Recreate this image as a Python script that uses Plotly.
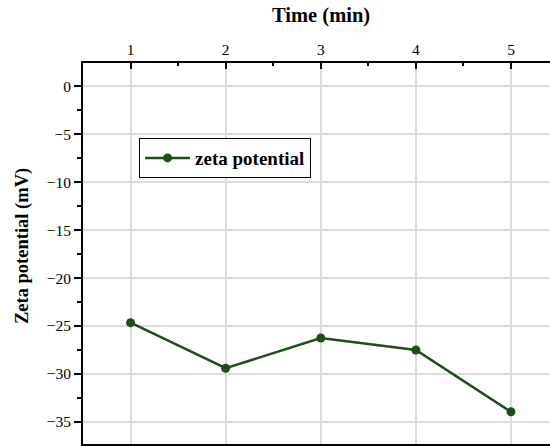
import plotly.graph_objects as go

time_min = [1, 2, 3, 4, 5]
zeta_mv = [-24.65, -29.4, -26.25, -27.5, -33.95]
series_name = "zeta potential"
x_title = "Time (min)"
y_title = "Zeta potential (mV)"

green = "#1d4f17"
serif = "Liberation Serif"

fig = go.Figure()
fig.add_trace(go.Scatter(
    x=time_min, y=zeta_mv, name=series_name, mode="lines+markers",
    line=dict(color=green, width=2.5),
    marker=dict(color=green, size=9),
))

fig.update_layout(
    width=550, height=446,
    margin=dict(l=83, r=0, t=63, b=2),
    paper_bgcolor="white", plot_bgcolor="white",
    font=dict(family=serif, size=15, color="black"),
    showlegend=True,
    legend=dict(
        x=0.12, y=0.803, xanchor="left", yanchor="top",
        bordercolor="black", borderwidth=1, bgcolor="white",
        font=dict(family=serif, size=19, weight="bold"),
        itemwidth=45,
    ),
    xaxis=dict(
        side="top", range=[0.5, 5.41], dtick=1, tick0=1,
        showline=True, linecolor="black", linewidth=2, mirror=True,
        ticks="inside", ticklen=6, tickwidth=2, tickcolor="black",
        minor=dict(dtick=0.5, tick0=0.5, ticks="inside", ticklen=3, tickwidth=2,
                   tickcolor="black", showgrid=False),
        showgrid=True, gridcolor="#dcdcdc", gridwidth=1.5,
        zeroline=False,
        tickfont=dict(family=serif, size=15.5),
    ),
    yaxis=dict(
        range=[-37.3, 2.43], dtick=5, tick0=0,
        showline=True, linecolor="black", linewidth=2,
        ticks="outside", ticklen=7, tickwidth=1.5, tickcolor="black",
        minor=dict(dtick=2.5, tick0=0, ticks="outside", ticklen=4, tickwidth=1.5,
                   tickcolor="black", showgrid=False),
        showgrid=True, gridcolor="#dcdcdc", gridwidth=1.5,
        zeroline=False,
        tickfont=dict(family=serif, size=15.5),
    ),
    annotations=[
        dict(text=x_title, xref="paper", yref="paper", x=(320.5 - 83) / 467, y=1.0,
             yshift=48, xanchor="center", yanchor="middle", showarrow=False,
             font=dict(family=serif, size=20.5, weight="bold")),
        dict(text=y_title, xref="paper", yref="paper", x=0, xshift=-61, y=(444 - 246) / 381,
             xanchor="center", yanchor="middle", textangle=-90, showarrow=False,
             font=dict(family=serif, size=18.5, weight="bold")),
    ],
)

fig.write_html("out.html")
